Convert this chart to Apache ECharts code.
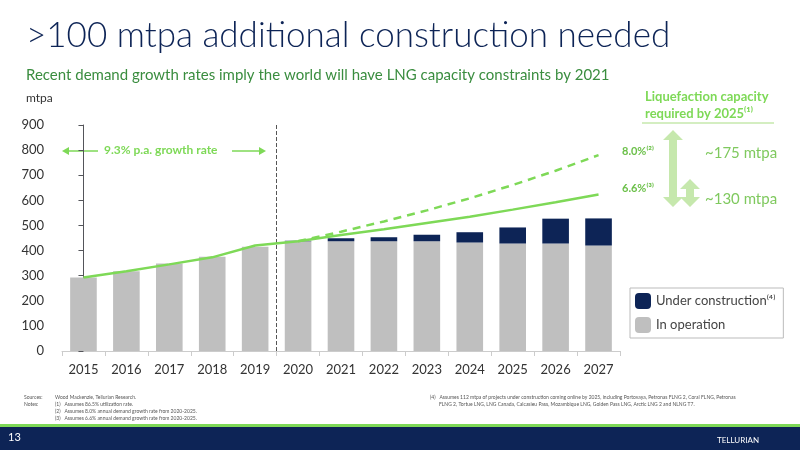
<!DOCTYPE html>
<html><head><meta charset="utf-8">
<script src="https://cdn.jsdelivr.net/npm/echarts@6/dist/echarts.min.js"></script>
<style>html,body{margin:0;padding:0;background:#fff}#c{width:800px;height:450px}</style>
</head><body><div id="c"></div>
<script>
const years = ['2015','2016','2017','2018','2019','2020','2021','2022','2023','2024','2025','2026','2027'];
const inOperation = [293,318,348,375,415,437,437,437,437,432,428,428,420];
const underConstruction = [0,0,0,0,0,2,12,16,26,41,64,99,108];
const demand66 = [293,318,345,373,420,437,462,485,510,535,563,592,623];
const demand80 = [null,null,null,null,null,437,475,516,560,608,661,718,780];
const yTicks = [0,100,200,300,400,500,600,700,800,900];

const G = '#7ed957', LG = '#c6e8ad', NAVY = '#0d2456', F = 'Lato, "Open Sans", sans-serif';
const chart = echarts.init(document.getElementById('c'));
chart.setOption({
  animation:false,
  grid:{left:62,right:180,top:125,bottom:99},
  xAxis:[{type:'category',data:years,axisTick:{show:true,length:5,lineStyle:{color:'#ccc'}},
    axisLine:{lineStyle:{color:'#ccc'}},axisLabel:{color:'#333',fontSize:13,fontFamily:F,margin:12}},
    {type:'value',min:-0.5,max:12.5,show:false}],
  yAxis:{type:'value',min:0,max:900,interval:100,splitLine:{show:false},axisLabel:{color:'#333',fontSize:13,fontFamily:F,margin:18,
    formatter:v=>yTicks.includes(v)?String(v):''}},
  legend:{orient:'vertical',left:630,top:288,itemWidth:16,itemHeight:16,itemGap:8,
    textStyle:{fontSize:13,color:'#444',fontFamily:F},
    data:['Under construction⁽⁴⁾','In operation'],
    borderColor:'#bbb',borderWidth:1,padding:[5,8,5,5]},
  series:[
    {name:'In operation',type:'bar',stack:'a',data:inOperation,barWidth:'62%',itemStyle:{color:'#bfbfbf'}},
    {name:'Under construction⁽⁴⁾',type:'bar',stack:'a',data:underConstruction,itemStyle:{color:NAVY}},
    {type:'line',data:demand66,symbol:'none',lineStyle:{color:G,width:2.5},z:5},
    {type:'line',data:demand80,symbol:'none',lineStyle:{color:G,width:2.5,type:[8,6]},z:5},
    {type:'line',xAxisIndex:1,data:[[4.5,0]],symbol:'none',lineStyle:{width:0},z:6,
      markLine:{symbol:'none',silent:true,label:{show:false},
      lineStyle:{color:'#555',type:'dashed',width:1},data:[{xAxis:4.5}]}}
  ],
  graphic:[
    {type:'text',left:26,top:18,style:{text:'>100 mtpa additional construction needed',fontSize:35,fontWeight:300,fill:NAVY,fontFamily:F}},
    {type:'text',left:26,top:68,style:{text:'Recent demand growth rates imply the world will have LNG capacity constraints by 2021',fontSize:15,fill:'#3a8d3f',fontFamily:F}},
    {type:'text',left:26,top:92,style:{text:'mtpa',fontSize:12,fill:'#333',fontFamily:F}},
    {type:'text',left:104,top:144,style:{text:'9.3% p.a. growth rate',fontSize:12,fontWeight:'bold',fill:G,fontFamily:F}},
    {type:'line',shape:{x1:64,y1:151,x2:98,y2:151},style:{stroke:G,lineWidth:1.5}},
    {type:'polygon',shape:{points:[[62,151],[69,147],[69,155]]},style:{fill:G}},
    {type:'line',shape:{x1:232,y1:151,x2:262,y2:151},style:{stroke:G,lineWidth:1.5}},
    {type:'polygon',shape:{points:[[266,151],[259,147],[259,155]]},style:{fill:G}},
    {type:'text',left:645,top:88,style:{text:'Liquefaction capacity\nrequired by 2025⁽¹⁾',fontSize:13,fontWeight:'bold',fill:G,lineHeight:17,fontFamily:F}},
    {type:'line',shape:{x1:642,y1:123,x2:774,y2:123},style:{stroke:LG,lineWidth:1.5}},
    {type:'text',left:622,top:146,style:{text:'8.0%⁽²⁾',fontSize:11,fontWeight:'bold',fill:'#6cc04a',fontFamily:F}},
    {type:'text',left:622,top:183,style:{text:'6.6%⁽³⁾',fontSize:11,fontWeight:'bold',fill:'#6cc04a',fontFamily:F}},
    {type:'polygon',shape:{points:[[673,130],[683,140],[677,140],[677,197],[683,197],[673,207],[663,197],[669,197],[669,140],[663,140]]},style:{fill:LG}},
    {type:'polygon',shape:{points:[[690,179],[700,189],[694,189],[694,197],[700,197],[690,207],[680,197],[686,197],[686,189],[680,189]]},style:{fill:LG}},
    {type:'text',left:705,top:146,style:{text:'~175 mtpa',fontSize:15,fill:'#7fc95e',fontFamily:F}},
    {type:'text',left:705,top:192,style:{text:'~130 mtpa',fontSize:15,fill:'#7fc95e',fontFamily:F}},
    {type:'text',left:24,top:394,style:{text:'Sources:\nNotes:',fontSize:5,fill:'#555',lineHeight:7,fontFamily:F}},
    {type:'text',left:55,top:394,style:{text:'Wood Mackenzie, Tellurian Research.\n(1)   Assumes 86.5% utilization rate.\n(2)   Assumes 8.0% annual demand growth rate from 2020-2025.\n(3)   Assumes 6.6% annual demand growth rate from 2020-2025.',fontSize:5,fill:'#555',lineHeight:7,fontFamily:F}},
    {type:'text',left:430,top:394,style:{text:'(4)   Assumes 112 mtpa of projects under construction coming online by 2025, including Portovaya, Petronas FLNG 2, Coral FLNG, Petronas\n       FLNG 2, Tortue LNG, LNG Canada, Calcasieu Pass, Mozambique LNG, Golden Pass LNG, Arctic LNG 2 and NLNG T7.',fontSize:5,fill:'#555',lineHeight:7,fontFamily:F}},
    {type:'rect',shape:{x:0,y:424,width:800,height:3},style:{fill:G}},
    {type:'rect',shape:{x:0,y:427,width:800,height:23},style:{fill:NAVY}},
    {type:'text',left:8,top:432,style:{text:'13',fontSize:11,fill:'#fff',fontFamily:F}},
    {type:'text',left:717,top:436,style:{text:'TELLURIAN',fontSize:8,fill:'#fff',fontFamily:F}}
  ]
});
</script></body></html>
